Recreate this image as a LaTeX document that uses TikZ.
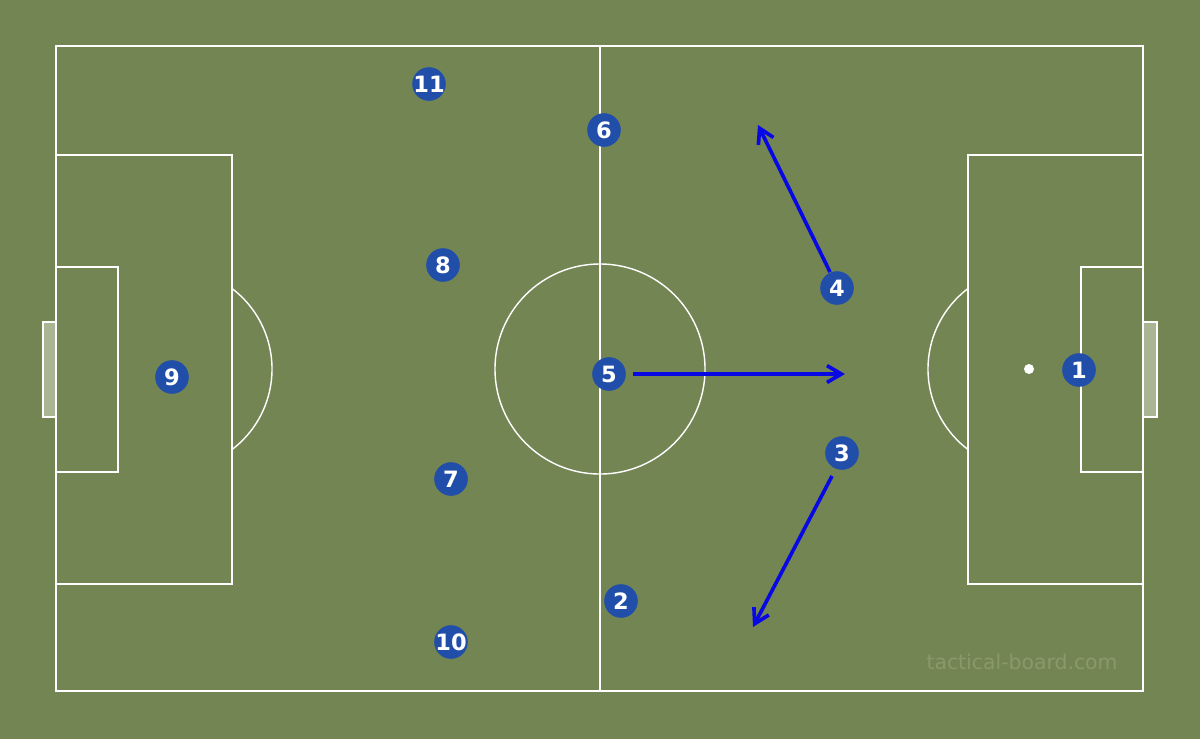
\documentclass[tikz,border=0pt]{standalone}
\usepackage{fontspec}
\setsansfont{DejaVu Sans}
\usetikzlibrary{arrows.meta}
\definecolor{pitch}{RGB}{116,133,84}
\definecolor{goalfill}{RGB}{170,181,148}
\definecolor{shirt}{RGB}{33,78,168}
\definecolor{runblue}{RGB}{8,8,228}
\definecolor{mark}{RGB}{138,153,108}
\tikzset{
    player/.style={circle, fill=shirt, minimum size=0.84cm, inner sep=-4pt,
        text=white, font=\sffamily\bfseries\fontsize{16}{16}\selectfont},
    pitchline/.style={white, line width=1pt},
    run/.style={runblue, line width=2.6pt, -{Straight Barb[length=3.6mm, width=4.2mm]}}
}
\begin{document}
\begin{tikzpicture}[x=0.025cm, y=-0.025cm]
        \useasboundingbox (0, 0) rectangle (1200, 739);
        \fill[pitch] (0, 0) rectangle (1200, 739);
        % goals
        \draw[pitchline, fill=goalfill] (56, 322) rectangle (43, 417);
        \draw[pitchline, fill=goalfill] (1143, 322) rectangle (1157, 417);
        % field markings
        \draw[pitchline] (56, 46) rectangle (1143, 691);
        \draw[pitchline] (600, 46) -- (600, 691);
        \draw[pitchline] (600, 369) circle[radius=2.625cm];
        \draw[pitchline] (56, 155) rectangle (232, 584);
        \draw[pitchline] (56, 267) rectangle (118, 472);
        \draw[pitchline] (968, 155) rectangle (1143, 584);
        \draw[pitchline] (1081, 267) rectangle (1143, 472);
        \draw[pitchline] (232, 288.5) arc[start angle=52.85, end angle=-52.85, radius=2.525cm];
        \draw[pitchline] (968, 288.5) arc[start angle=127.15, end angle=232.85, radius=2.525cm];
        \fill[white] (1029, 369) circle[radius=0.125cm];
        \fill[white] (171, 369) circle[radius=0.125cm];
        % players
        \node[player] (p1) at (1079, 370) {1};
        \node[player] (p2) at (621, 601) {2};
        \node[player] (p3) at (842, 453) {3};
        \node[player] (p4) at (837, 288) {4};
        \node[player] (p5) at (609, 374) {5};
        \node[player] (p6) at (604, 130) {6};
        \node[player] (p7) at (451, 479) {7};
        \node[player] (p8) at (443, 265) {8};
        \node[player] (p9) at (172, 377) {9};
        \node[player] (p10) at (451, 642) {10};
        \node[player] (p11) at (429, 84) {11};
        % runs
        \coordinate (r5) at (845, 374);
        \coordinate (r4) at (758, 125);
        \coordinate (r3) at (753, 627);
        \draw[run, shorten <=5pt] (p5.east) -- (r5);
        \draw[run] (830, 272) -- (r4);
        \draw[run] (832, 476) -- (r3);
        \node[text=mark, font=\sffamily\fontsize{14.5}{14.5}\selectfont] (credit) at (1022, 662) {tactical-board.com};
    \end{tikzpicture}
\end{document}
